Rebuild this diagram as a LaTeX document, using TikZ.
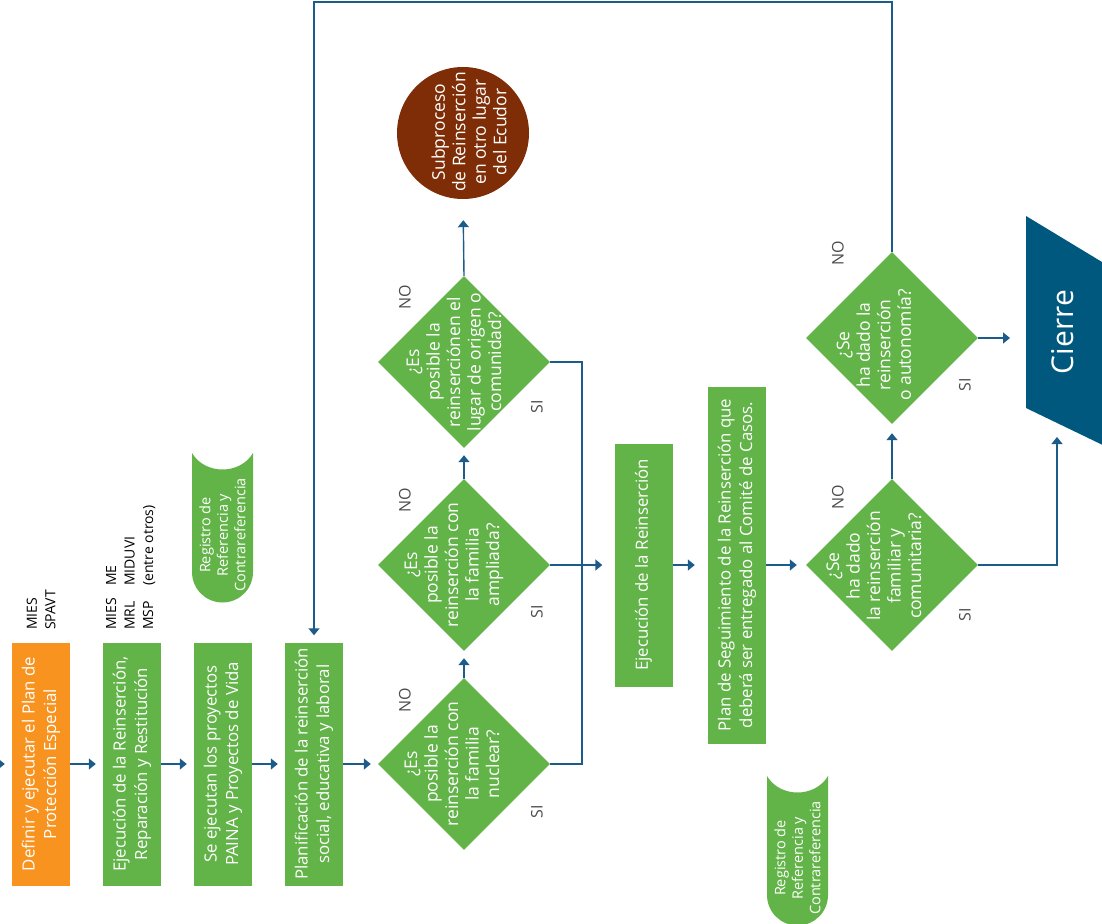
\documentclass[tikz,border=0pt]{standalone}
\usepackage{fontspec}
\setmainfont{Open Sans}
\usepackage{xcolor}
\usepackage{tikz}
\usetikzlibrary{positioning, shapes, calc, arrows.meta}
\definecolor{flowgreen}{RGB}{98,180,72}
\definecolor{floworange}{RGB}{247,147,30}
\definecolor{flowbrown}{RGB}{126,45,6}
\definecolor{flowblue}{RGB}{0,88,127}
\definecolor{linkblue}{RGB}{28,92,138}

\begin{document}
\begin{tikzpicture}[x=1pt, y=-1pt,
  box/.style={draw=none, fill=flowgreen, text=white, rotate=90, minimum width=\boxlen, minimum height=58pt, inner sep=2pt, align=center, font=\fontsize{16.8}{21.5}\selectfont},
  decision/.style={diamond, fill=flowgreen, minimum width=172pt, minimum height=172pt, inner sep=0pt},
  qtext/.style={rotate=90, text=white, align=center, inner sep=0pt, font=\fontsize{17.5}{20.5}\selectfont},
  tagtext/.style={rotate=90, text=white, align=center, inner sep=0pt, font=\fontsize{14.5}{17.5}\selectfont},
  resp/.style={rotate=90, anchor=west, align=left, inner sep=0pt, font=\fontsize{14}{18.5}\selectfont},
  answer/.style={rotate=90, text=black!70, font=\fontsize{16}{18}\selectfont},
  link/.style={draw=linkblue, line width=1.4pt},
  flow/.style={link, -{Triangle[length=7pt,width=11pt]}, shorten >=7pt}]
\useasboundingbox (0,0) rectangle (1102,923);
\pgfmathsetmacro{\boxlen}{243}

% fila de procesos
\node[box, fill=floworange] (definir) at (41,764) {Definir y ejecutar el Plan de\\Protección Especial};
\node[box] (ejecrep) at (132,764) {Ejecución de la Reinserción,\\Reparación y Restitución};
\node[box] (proyectos) at (223,764) {Se ejecutan los proyectos\\PAINA y Proyectos de Vida};
\node[box] (planif) at (314,764) {Planificación de la reinserción\\social, educativa y laboral};

\node[resp] (mies) at (41,630) {MIES\\SPAVT};
\node[resp] (ministerios) at (131,630) {\begin{tabular}{@{}l@{\hspace{12pt}}l@{}}MIES&ME\\MRL&MIDUVI\\MSP&(entre otros)\end{tabular}};

% registros
\foreach \tx/\ty/\tn in {192/453/registroA, 767/776/registroB} {
  \fill[flowgreen] (\tx,\ty) .. controls (\tx+13,\ty+22) and (\tx+48,\ty+22) .. (\tx+61,\ty)
    -- (\tx+61,\ty+119) .. controls (\tx+61,\ty+136) and (\tx+47.3,\ty+149.5) .. (\tx+30.5,\ty+149.5)
    .. controls (\tx+13.7,\ty+149.5) and (\tx,\ty+136) .. (\tx,\ty+119) -- cycle;
  \node[tagtext] (\tn) at (\tx+30.5,\ty+82) {Registro de\\Referencia y\\Contrareferencia};
}

% decisiones
\node[decision] (nuclear) at (464,764) {};
\node[qtext] at (452,764) {¿Es\\posible la\\reinserción con\\la familia\\nuclear?};
\node[decision] (ampliada) at (464,565) {};
\node[qtext] at (454,565) {¿Es\\posible la\\reinserción con\\la familia\\ampliada?};
\node[decision] (origen) at (464,362) {};
\node[qtext] at (454,362) {¿Es\\posible la\\reinserciónen el\\lugar de origen o\\comunidad?};
\node[circle, fill=flowbrown, minimum size=132pt] (subproceso) at (463,133) {};
\node[qtext] at (469,132) {Subproceso\\de Reinserción\\en otro lugar\\del Ecudor};

\node[box] (ejecucion) at (643.5,565) {Ejecución de la Reinserción};
\pgfmathsetmacro{\boxlen}{357}
\node[box] (seguimiento) at (737,565) {Plan de Seguimiento de la Reinserción que\\deberá ser entregado al Comité de Casos.};

\node[decision] (familiar) at (892,565) {};
\node[qtext] at (874,566) {¿Se\\ha dado\\la reinserción\\familiar y\\comunitaria?};
\node[decision] (autonomia) at (892,338) {};
\node[qtext] at (874,345) {¿Se\\ha dado la\\reinserción\\o autonomía?};

\fill[flowblue] (1026,216) -- (1140,285) -- (1140,463) -- (1026,408) -- cycle;
\node[rotate=90, text=white, font=\fontsize{30}{32}\selectfont] (cierre) at (1063,332) {Cierre};

% respuestas
\node[answer] at (405,700) {NO};
\node[answer] at (405,500) {NO};
\node[answer] at (405,297) {NO};
\node[answer] at (838,497) {NO};
\node[answer] at (838,253) {NO};
\node[answer] at (537,812) {SI};
\node[answer] at (537,612) {SI};
\node[answer] at (537,407) {SI};
\node[answer] at (965,615) {SI};
\node[answer] at (965,385) {SI};

% conectores
\coordinate (entrada) at (-20,764);
\coordinate (si) at (582,565);
\coordinate (cierreW) at (1026,338);
\coordinate (cierreS) at (1057,423);
\coordinate (retorno) at (314,2);
\draw[flow] (entrada) -- (definir);
\draw[flow] (definir) -- (ejecrep);
\draw[flow] (ejecrep) -- (proyectos);
\draw[flow] (proyectos) -- (planif);
\draw[flow] (planif) -- (nuclear);
\draw[flow] (nuclear.north) -- (ampliada.south);
\draw[flow] (ampliada.north) -- (origen.south);
\draw[flow, shorten >=21pt] (origen.north) -- (subproceso.south);
\draw[link] (origen.east) -| (si) |- (nuclear.east);
\draw[flow, shorten >=12pt] (ampliada.east) -- (ejecucion);
\draw[flow, shorten >=13pt] (ejecucion) -- (seguimiento);
\draw[flow, shorten >=9pt] (seguimiento) -- (familiar);
\draw[flow, shorten >=9pt] (familiar.north) -- (autonomia.south);
\draw[flow, shorten >=16pt] (autonomia.east) -- (cierreW);
\draw[flow, shorten >=14pt] (familiar.east) -| (cierreS);
\draw[flow] (autonomia.north) |- (retorno) -- (planif.east);
\end{tikzpicture}
\end{document}
